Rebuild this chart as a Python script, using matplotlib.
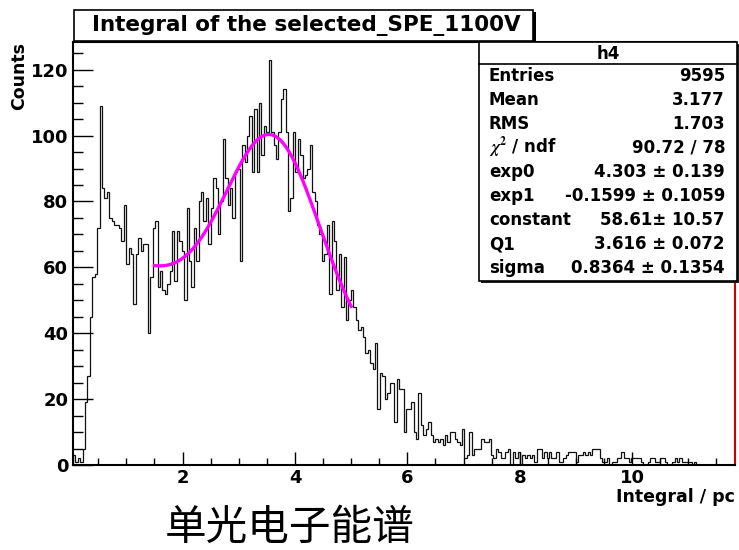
import matplotlib
matplotlib.use('Agg')
import matplotlib.pyplot as plt
from matplotlib.patches import Rectangle
from matplotlib.lines import Line2D
import numpy as np

FIG_W, FIG_H = 739, 550

# histogram h4, bin contents
HIST_LO = 0.05
BIN_W = 0.043
counts = [
    3, 1, 2, 1, 5, 19, 27, 45, 57, 58, 72, 109, 84, 81, 83, 75, 74, 73, 73, 72,
    68, 79, 61, 66, 64, 49, 64, 69, 65, 67, 67, 40, 57, 72, 74, 54,
    59, 53, 52, 55, 59, 71, 56, 71, 68, 65, 50, 78, 62, 54, 72, 62, 80, 83, 74, 81,
    67, 78, 87, 84, 70, 80, 99, 87, 79, 84, 75, 89, 90, 62, 97, 92, 100, 106, 89, 108,
    89, 110, 94, 103, 101, 123, 101, 97, 93, 101, 111, 114, 101, 77, 81, 101, 89, 99, 94, 87,
    88, 90, 97,
    83, 80, 73, 70, 62, 64, 73, 52, 74, 68, 53, 64, 48, 63, 44, 50, 53, 48, 44, 41,
    42, 39, 34, 35, 31, 29, 37, 17, 28, 27, 20, 22, 25, 25, 13, 26, 23, 23, 10, 17,
    17, 19, 10,
    8, 22, 12, 9, 11, 13, 9, 7, 8, 7, 8, 6, 9, 7, 10, 10, 8, 7, 6, 11,
    2, 3, 10, 3, 5, 5, 5, 8, 7, 7, 8, 3, 2, 5, 4, 2, 2, 4, 5, 0,
    4, 2, 4, 0, 3, 2, 3, 2, 3, 1, 5, 5, 2, 4, 2, 4, 2, 2, 4,
    1, 1, 2, 3, 4, 4, 4, 1, 3, 3, 4, 3, 4, 3, 5, 5, 5, 2, 1, 1,
    2, 0, 1, 1, 2, 2, 4, 2, 2, 1, 2, 2, 2, 2, 1, 0, 0, 1, 2, 2,
    1, 1, 2, 2, 1, 0, 0, 1, 2, 1, 2, 1, 1, 1, 1, 0, 1,
    0, 0, 0, 0, 0, 0, 0, 0, 0, 0, 0, 0, 0, 0, 0, 0,
]

# fit expo + gaus
FIT_RANGE = (1.5, 5.0)
EXP0, EXP1 = 4.303, -0.1599
CONSTANT, Q1, SIGMA = 58.61, 3.616, 0.8364

TITLE = 'Integral of the selected_SPE_1100V'
X_LABEL = 'Integral / pc'
Y_LABEL = 'Counts'
CAPTION = '单光电子能谱'
STAT_NAME = 'h4'
stat_labels = ['Entries', 'Mean', 'RMS', r'$\chi^2$ / ndf', 'exp0', 'exp1',
               'constant', 'Q1', 'sigma']
stat_values = ['9595', '3.177', '1.703', '90.72 / 78', '4.303 \u00b1 0.139',
               '-0.1599 \u00b1 0.1059', '58.61\u00b1 10.57', '3.616 \u00b1 0.072',
               '0.8364 \u00b1 0.1354']


def fx(px):
    return px / FIG_W


def fy(py):
    return 1 - py / FIG_H


plt.rcParams['font.family'] = ['DejaVu Sans']
plt.rcParams['font.weight'] = 'bold'
plt.rcParams['mathtext.fontset'] = 'stix'

fig = plt.figure(figsize=(FIG_W / 100, FIG_H / 100), dpi=100)
ax = fig.add_axes([fx(73), fy(465), (735 - 73) / FIG_W, (465 - 42) / FIG_H])

edges = HIST_LO + BIN_W * np.arange(len(counts) + 1)
ax.stairs(counts, edges, color='#111111', linewidth=0.9, baseline=0)

xs = np.linspace(FIT_RANGE[0], FIT_RANGE[1], 300)
ys = np.exp(EXP0 + EXP1 * xs) + CONSTANT * np.exp(-0.5 * ((xs - Q1) / SIGMA) ** 2)
ax.plot(xs, ys, color='#ff00ff', linewidth=2.4)

ax.set_xlim(edges[0], edges[-1])
ax.set_ylim(0, 128.4)
ax.set_xticks([2, 4, 6, 8, 10])
ax.set_xticks(np.arange(0.5, 11.8, 0.5), minor=True)
ax.set_yticks(np.arange(0, 121, 20))
ax.set_yticks(np.arange(5, 128, 5), minor=True)
ax.tick_params(axis='x', which='major', direction='in', length=9.4, width=1,
               labelsize=13, pad=3)
ax.tick_params(axis='x', which='minor', direction='in', length=5, width=1)
ax.tick_params(axis='y', which='major', direction='in', length=14.4, width=1,
               labelsize=13, pad=3.5)
ax.tick_params(axis='y', which='minor', direction='in', length=7.2, width=1)
for lab in ax.get_xticklabels() + ax.get_yticklabels():
    lab.set_fontweight('bold')

for side in ['left', 'bottom', 'top']:
    ax.spines[side].set_linewidth(1.5)
ax.spines['right'].set_color('#cc0000')
ax.spines['right'].set_linewidth(1.5)

fig.text(fx(735), fy(497), X_LABEL, ha='right', va='center', fontsize=12.5,
         fontweight='bold')
fig.text(fx(19), fy(42), Y_LABEL, ha='center', va='top', rotation=90,
         fontsize=12.5, fontweight='bold')

# title box
fig.add_artist(Rectangle((fx(76), fy(42.5)), fx(535.5) - fx(76), fy(12) - fy(42.5),
                         transform=fig.transFigure, facecolor='black',
                         edgecolor='none', zorder=5))
fig.add_artist(Rectangle((fx(74), fy(41)), fx(533) - fx(74), fy(10) - fy(41),
                         transform=fig.transFigure, facecolor='white',
                         edgecolor='black', linewidth=1.2, zorder=6))
fig.text(fx(306), fy(26), TITLE, ha='center', va='center', fontsize=15.5,
         fontweight='bold', zorder=7)

# stats box
fig.add_artist(Rectangle((fx(480.5), fy(282.5)), fx(739) - fx(480.5), fy(44) - fy(282.5),
                         transform=fig.transFigure, facecolor='#222222',
                         edgecolor='none', zorder=5))
fig.add_artist(Rectangle((fx(479), fy(281)), fx(737) - fx(479), fy(42) - fy(281),
                         transform=fig.transFigure, facecolor='white',
                         edgecolor='black', linewidth=1.2, zorder=6))
fig.add_artist(Line2D([fx(479), fx(737)], [fy(63.5), fy(63.5)],
                      transform=fig.transFigure, color='black', linewidth=1.2,
                      zorder=7))
fig.text(fx(608), fy(59), STAT_NAME, ha='center', va='baseline', fontsize=12,
         fontweight='bold', zorder=7)
for i, (lab, val) in enumerate(zip(stat_labels, stat_values)):
    base = 80.7 + 24.05 * i
    fig.text(fx(489), fy(base), lab, ha='left', va='baseline', fontsize=12,
             fontweight='bold', zorder=7)
    fig.text(fx(725), fy(base), val, ha='right', va='baseline', fontsize=12,
             fontweight='bold', zorder=7)

fig.text(fx(290), fy(528), CAPTION, ha='center', va='center', fontsize=30,
         family=['Noto Sans CJK SC', 'DejaVu Sans'], fontweight='light')

fig.savefig('out.png', dpi=100)
